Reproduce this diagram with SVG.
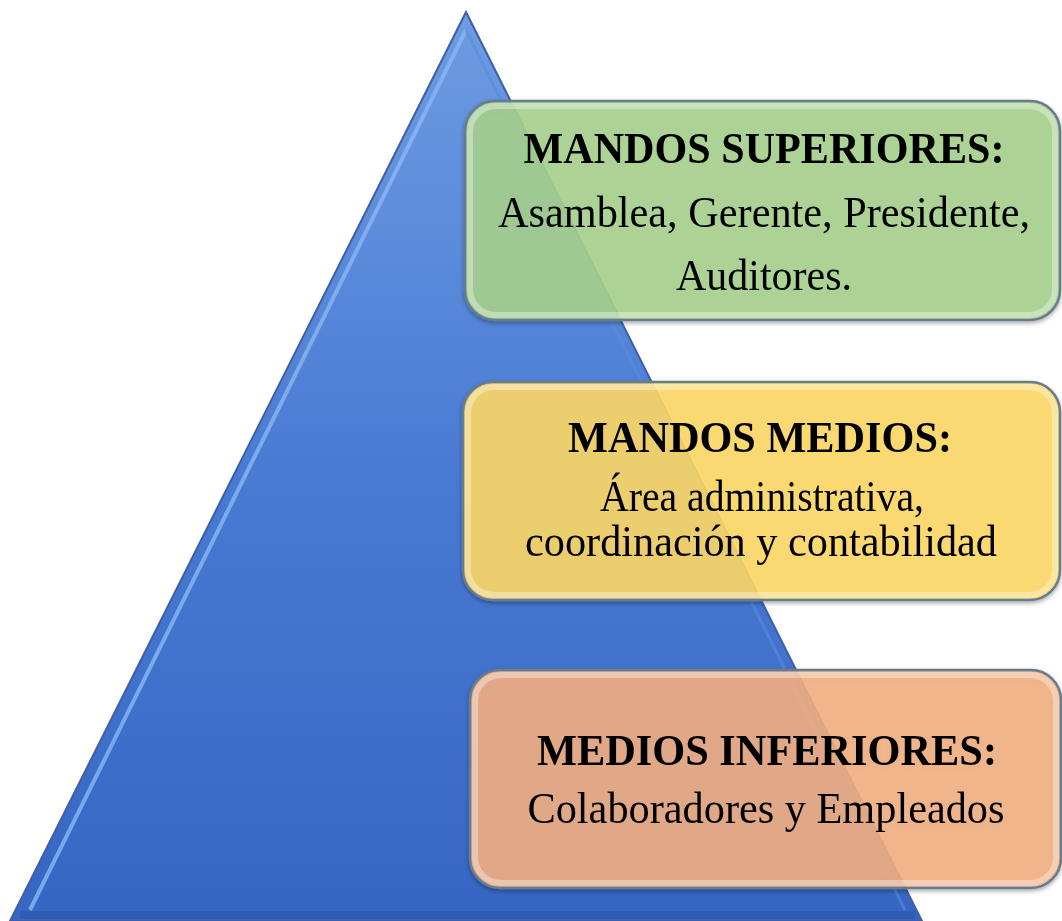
<svg xmlns="http://www.w3.org/2000/svg" width="1062" height="921" viewBox="0 0 1062 921">
<style>
.h{font-family:"Liberation Serif","Times New Roman",serif;font-weight:bold;font-size:44px;fill:#000;text-anchor:middle}
.t{font-family:"Liberation Serif","Times New Roman",serif;font-size:44px;fill:#000;text-anchor:middle}
.edge{fill:none;stroke:#667b90;stroke-width:2.5}
.bevel{fill:none;stroke:#ffffff;stroke-opacity:0.35;stroke-width:6}
</style>
<defs>
<linearGradient id="tri" x1="0" y1="0" x2="0" y2="1">
<stop offset="0" stop-color="#6d9ce2"/>
<stop offset="0.5" stop-color="#4a7bd3"/>
<stop offset="1" stop-color="#3566c3"/>
</linearGradient>
<filter id="sh" x="-5%" y="-5%" width="110%" height="115%">
<feDropShadow dx="0" dy="2" stdDeviation="2" flood-color="#000" flood-opacity="0.35"/>
</filter>
</defs>
<rect width="1062" height="921" fill="#ffffff"/>
<g id="pyramid">
<polygon points="466,12 922,921 10,921" fill="url(#tri)" stroke="#3c5fa6" stroke-width="2"/>
<polyline points="466,30 30,910" fill="none" stroke="#8ab8f4" stroke-width="4" stroke-opacity="0.8"/>
<polyline points="466,30 905,910" fill="none" stroke="#5a8be0" stroke-width="3" stroke-opacity="0.6"/>
<line x1="20" y1="915" x2="915" y2="915" stroke="#2f5db4" stroke-width="8"/>
</g>
<g id="node-superiores" filter="url(#sh)">
<rect x="465" y="101" width="595" height="219" rx="30" fill="#a9d18e" fill-opacity="0.88"/>
<rect x="470" y="106" width="585" height="209" rx="26" class="bevel"/>
<rect x="465" y="101" width="595" height="219" rx="30" class="edge"/>
<text x="764" y="163" class="h" textLength="481" lengthAdjust="spacingAndGlyphs">MANDOS SUPERIORES:</text>
<text x="764" y="227" class="t" textLength="532" lengthAdjust="spacingAndGlyphs">Asamblea, Gerente, Presidente,</text>
<text x="764" y="290" class="t" textLength="176" lengthAdjust="spacingAndGlyphs">Auditores.</text>
</g>
<g id="node-medios" filter="url(#sh)">
<rect x="463" y="382" width="597" height="218" rx="30" fill="#ffd966" fill-opacity="0.88"/>
<rect x="468" y="387" width="587" height="208" rx="26" class="bevel"/>
<rect x="463" y="382" width="597" height="218" rx="30" class="edge"/>
<text x="760" y="452" class="h" textLength="384" lengthAdjust="spacingAndGlyphs">MANDOS MEDIOS:</text>
<text x="762" y="511" class="t" textLength="324" lengthAdjust="spacingAndGlyphs">Área administrativa,</text>
<text x="761" y="556" class="t" textLength="472" lengthAdjust="spacingAndGlyphs">coordinación y contabilidad</text>
</g>
<g id="node-inferiores" filter="url(#sh)">
<rect x="470" y="670" width="591" height="218" rx="30" fill="#f4b183" fill-opacity="0.88"/>
<rect x="475" y="675" width="581" height="208" rx="26" class="bevel"/>
<rect x="470" y="670" width="591" height="218" rx="30" class="edge"/>
<text x="767" y="765" class="h" textLength="460" lengthAdjust="spacingAndGlyphs">MEDIOS INFERIORES:</text>
<text x="766" y="823" class="t" textLength="477" lengthAdjust="spacingAndGlyphs">Colaboradores y Empleados</text>
</g>
<g id="connectors"></g>
</svg>
